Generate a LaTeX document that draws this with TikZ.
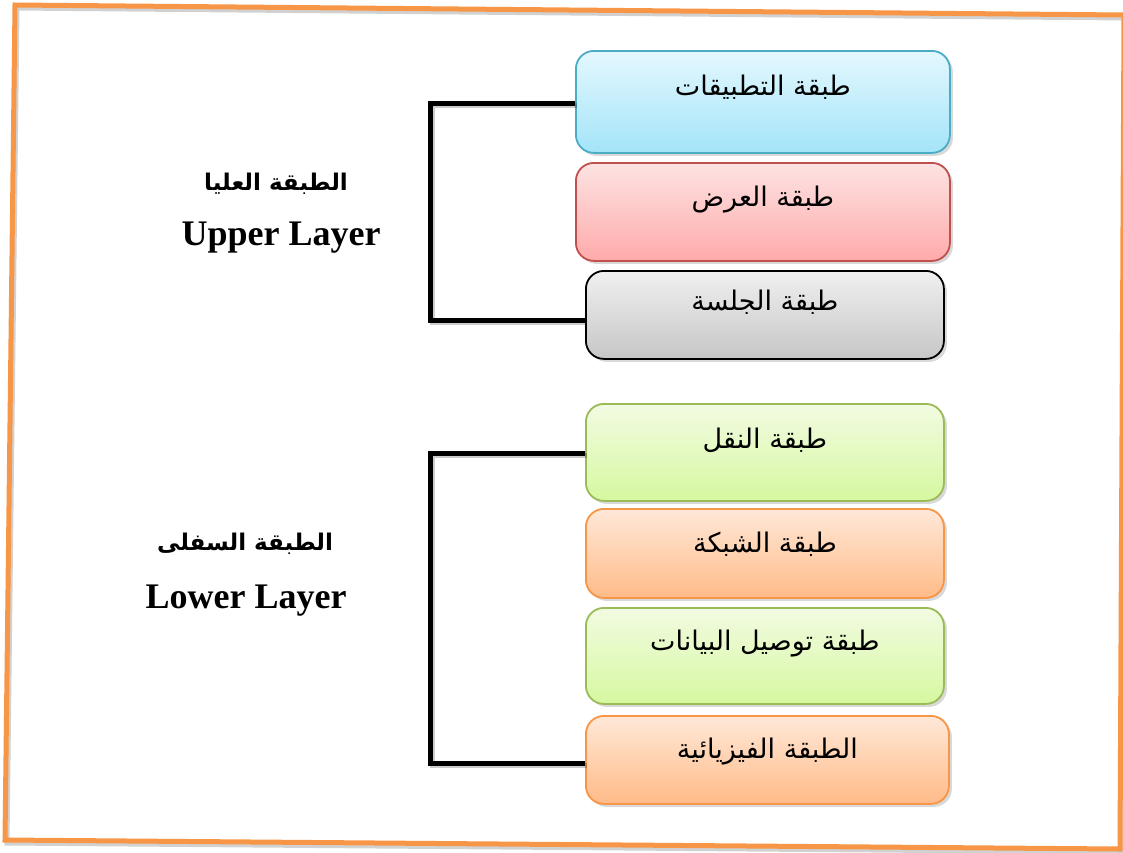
\documentclass[tikz,border=0pt]{standalone}
\usepackage{fontspec}
\setmainfont{Liberation Serif}
\newfontfamily\arabicfont[Script=Arabic]{DejaVu Sans}
\TeXXeTstate=1
\usetikzlibrary{shadows}
\definecolor{frameor}{HTML}{F79646}
\definecolor{bluetop}{HTML}{E4F8FE}
\definecolor{bluebot}{HTML}{A3E4F8}
\definecolor{blueline}{HTML}{4BACC6}
\definecolor{redtop}{HTML}{FDE3E3}
\definecolor{redbot}{HTML}{FFAAAA}
\definecolor{redline}{HTML}{C0504D}
\definecolor{graytop}{HTML}{F0F0F0}
\definecolor{graybot}{HTML}{C6C6C6}
\definecolor{greentop}{HTML}{F2FBE2}
\definecolor{greenbot}{HTML}{D6F8A0}
\definecolor{greenline}{HTML}{9BBB59}
\definecolor{ortop}{HTML}{FFE8D8}
\definecolor{orbot}{HTML}{FFBB88}
\begin{document}
\begin{tikzpicture}[x=1pt,y=-1pt,
  layerbox/.style={line width=1.8pt, rounded corners=18pt, inner sep=0pt,
    anchor=north west, align=center,
    font=\arabicfont\fontsize{27}{32}\selectfont,
    drop shadow={opacity=0.3, shadow xshift=3pt, shadow yshift=-3pt}},
  bluebox/.style={layerbox, draw=blueline, top color=bluetop, bottom color=bluebot},
  redbox/.style={layerbox, draw=redline, top color=redtop, bottom color=redbot},
  graybox/.style={layerbox, draw=black, top color=graytop, bottom color=graybot},
  greenbox/.style={layerbox, draw=greenline, top color=greentop, bottom color=greenbot},
  orbox/.style={layerbox, draw=frameor, top color=ortop, bottom color=orbot},
  conn/.style={line width=5pt, black},
  connshadow/.style={line width=5pt, black, opacity=0.2, transform canvas={shift={(2pt,-2pt)}}},
  arlabel/.style={anchor=base, font=\arabicfont\bfseries\fontsize{23}{28}\selectfont},
  enlabel/.style={anchor=base, font=\bfseries\fontsize{36}{42}\selectfont}
]
\useasboundingbox (0,0) rectangle (1123,852);
% frame
\draw[line width=5pt, black, opacity=0.18, transform canvas={shift={(2pt,-3pt)}}]
  (15,5) -- (1124,15) -- (1120,849) -- (5,840) -- cycle;
\draw[line width=5pt, frameor] (15,5) -- (1124,15) -- (1120,849) -- (5,840) -- cycle;

% boxes
\node[bluebox, minimum width=374pt, text height=45pt, text depth=57pt] (b1) at (575,50)
  {\beginR طبقة التطبيقات\endR};
\node[redbox, minimum width=374pt, text height=44pt, text depth=54pt] (b2) at (575,162)
  {\beginR طبقة العرض\endR};
\node[graybox, minimum width=358pt, text height=40pt, text depth=48pt] (b3) at (585,270)
  {\beginR طبقة الجلسة\endR};
\node[greenbox, minimum width=358pt, text height=45pt, text depth=52pt] (b4) at (585,403)
  {\beginR طبقة النقل\endR};
\node[orbox, minimum width=358pt, text height=44pt, text depth=45pt] (b5) at (585,508)
  {\beginR طبقة الشبكة\endR};
\node[greenbox, minimum width=358pt, text height=43pt, text depth=53pt] (b6) at (585,607)
  {\beginR طبقة توصيل البيانات\endR};
\node[orbox, minimum width=363pt, text height=43pt, text depth=45pt] (b7) at (585,715)
  {\beginR الطبقة الفيزيائية\endR};

% connectors
\draw[connshadow] ([yshift=-2pt]b1.west) -- ++(-145,0) |- ([yshift=-6pt]b3.west);
\draw[conn] ([yshift=-2pt]b1.west) -- ++(-145,0) |- ([yshift=-6pt]b3.west);
\draw[connshadow] ([yshift=-1pt]b4.west) -- ++(-155,0) |- ([yshift=-4pt]b7.west);
\draw[conn] ([yshift=-1pt]b4.west) -- ++(-155,0) |- ([yshift=-4pt]b7.west);

% labels
\node[arlabel] (ua) at (276,190) {\beginR الطبقة العليا\endR};
\node[enlabel] (ue) at (281,245) {Upper Layer};
\node[arlabel] (la) at (245,550) {\beginR الطبقة السفلى\endR};
\node[enlabel] (le) at (246,608) {Lower Layer};
\end{tikzpicture}
\end{document}
